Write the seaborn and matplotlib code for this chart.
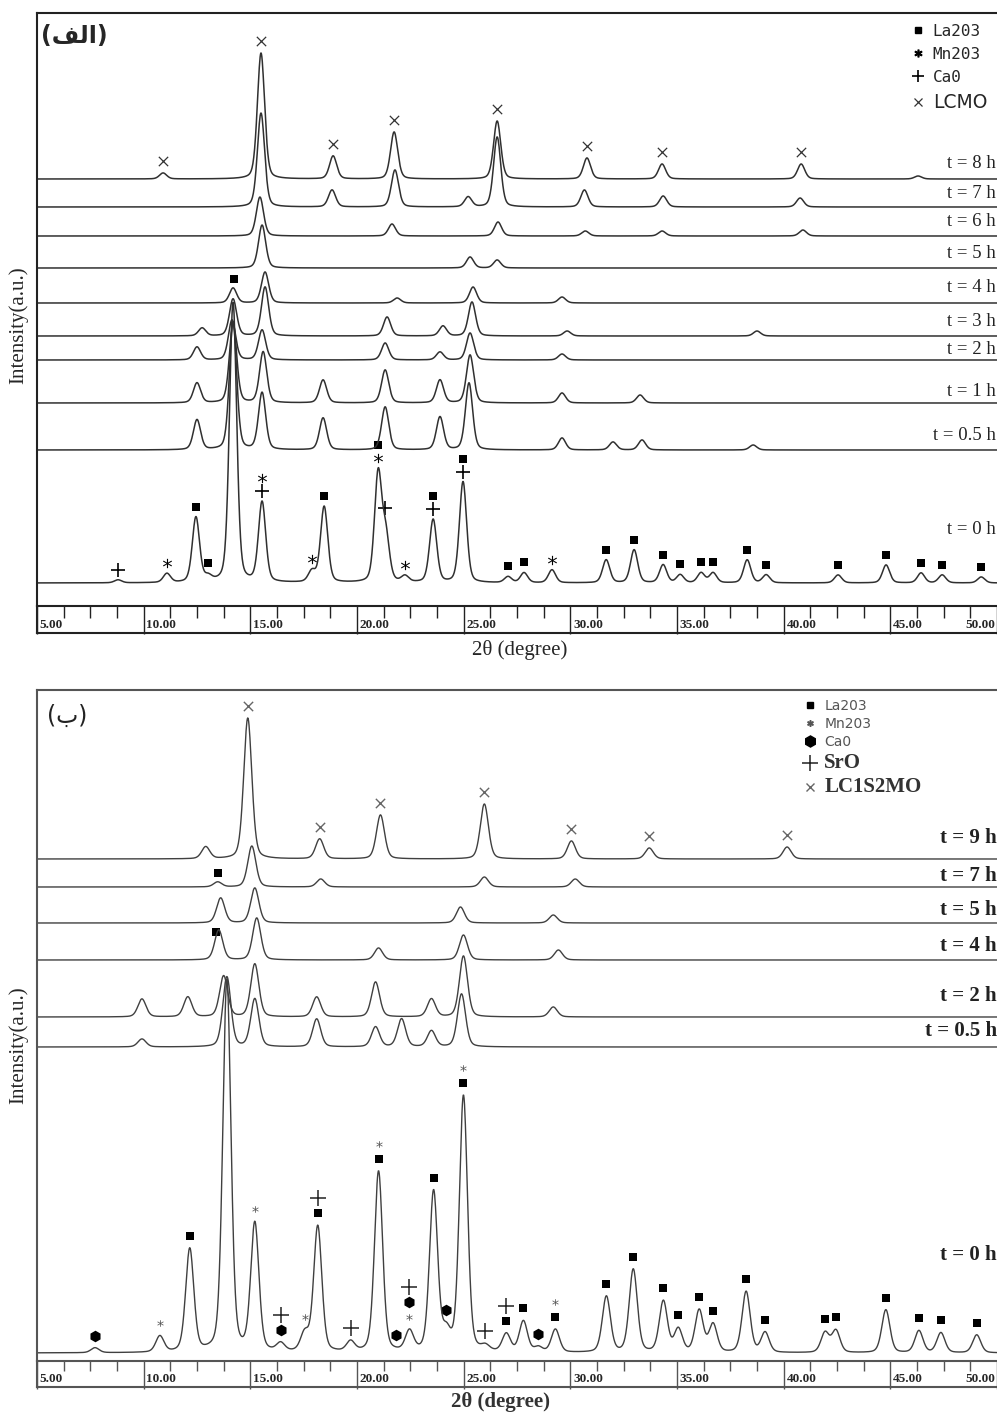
import numpy as np
import pandas as pd
import matplotlib.pyplot as plt
import seaborn as sns
from matplotlib.lines import Line2D
from matplotlib import transforms

# ---------------- dados ----------------
# eixo 2θ comum
x_major = [5, 10, 15, 20, 25, 30, 35, 40, 45, 50]
x_major_lab = ['5.00', '10.00', '15.00', '20.00', '25.00', '30.00', '35.00', '40.00', '45.00', '50.00']

# painel (الف) - LCMO
top_names = ['t = 8 h', 't = 7 h', 't = 6 h', 't = 5 h', 't = 4 h', 't = 3 h', 't = 2 h', 't = 1 h', 't = 0.5 h', 't = 0 h']

top_t8_pos = [10.91, 15.50, 18.88, 21.74, 26.57, 30.78, 34.30, 40.82, 46.30]
top_t8_hgt = [6, 126, 23, 47, 58, 21, 15, 15, 3]
top_t7_pos = [15.50, 18.83, 21.78, 25.21, 26.57, 30.66, 34.35, 40.77]
top_t7_hgt = [94, 17, 37, 10, 70, 17, 11, 9]
top_t6_pos = [15.45, 21.64, 26.61, 30.70, 34.30, 40.90]
top_t6_hgt = [39, 12, 14, 5, 5, 6]
top_t5_pos = [15.55, 25.30, 26.57]
top_t5_hgt = [43, 11, 8]
top_t4_pos = [14.19, 15.69, 21.88, 25.44, 29.61]
top_t4_hgt = [15, 31, 5, 16, 6]
top_t3_pos = [12.74, 14.19, 15.69, 21.41, 24.03, 25.39, 29.85, 38.75]
top_t3_hgt = [8, 37, 49, 19, 10, 34, 5, 5]
top_t2_pos = [12.50, 14.14, 15.55, 21.32, 23.89, 25.30, 29.61]
top_t2_hgt = [13, 40, 30, 17, 8, 27, 6]
top_t1_pos = [12.50, 14.19, 15.60, 18.41, 21.32, 23.89, 25.30, 29.61, 33.27]
top_t1_hgt = [20, 80, 51, 23, 33, 23, 48, 10, 8]
top_t05_pos = [12.50, 14.19, 15.55, 18.41, 21.32, 23.89, 25.25, 29.61, 32.00, 33.36, 38.57]
top_t05_hgt = [30, 128, 57, 32, 43, 33, 67, 12, 8, 10, 5]
top_t0_pos = [8.80, 11.09, 12.45, 13.02, 14.19, 15.55, 17.89, 18.46, 20.99, 21.35, 22.25, 23.57, 24.97,
              27.08, 27.83, 29.14, 31.68, 32.99, 34.35, 35.15, 36.13, 36.69, 38.29, 39.18, 42.55,
              44.80, 46.44, 47.43, 49.26]
top_t0_hgt = [3, 9, 65, 5, 280, 80, 11, 76, 108, 45, 6, 63, 101,
              6, 10, 13, 23, 33, 18, 8, 10, 10, 23, 8, 8,
              18, 10, 8, 6]

# marcadores de fase: L=La203, M=Mn203, C=Ca0, P=LCMO (empilhados de baixo p/ cima)
top_t8_mark_pos = [10.91, 15.50, 18.88, 21.74, 26.57, 30.78, 34.30, 40.82]
top_t8_mark_sym = ['P', 'P', 'P', 'P', 'P', 'P', 'P', 'P']
top_t4_mark_pos = [14.24]
top_t4_mark_sym = ['L']
top_t0_mark_pos = [8.80, 11.09, 12.45, 13.02, 15.55, 17.89, 18.46, 20.99, 21.32, 22.25, 23.57, 24.97,
                   27.08, 27.83, 29.14, 31.68, 32.99, 34.35, 35.15, 36.13, 36.69, 38.29, 39.18,
                   42.55, 44.80, 46.44, 47.43, 49.26]
top_t0_mark_sym = ['C', 'M', 'L', 'L', 'CM', 'M', 'L', 'ML', 'C', 'M', 'CL', 'CL',
                   'L', 'L', 'M', 'L', 'L', 'L', 'L', 'L', 'L', 'L', 'L',
                   'L', 'L', 'L', 'L', 'L']

# painel (ب) - LC1S2MO
bot_names = ['t = 9 h', 't = 7 h', 't = 5 h', 't = 4 h', 't = 2 h', 't = 0.5 h', 't = 0 h']

bot_t9_pos = [12.91, 14.88, 18.25, 21.10, 25.97, 30.05, 33.70, 40.16]
bot_t9_hgt = [12, 141, 20, 44, 55, 18, 11, 12]
bot_t7_pos = [13.47, 15.07, 18.30, 25.97, 30.23]
bot_t7_hgt = [5, 41, 8, 10, 8]
bot_t5_pos = [13.61, 15.21, 24.85, 29.20]
bot_t5_hgt = [25, 35, 16, 8]
bot_t4_pos = [13.52, 15.30, 21.01, 24.99, 29.44]
bot_t4_hgt = [30, 42, 12, 25, 10]
bot_t2_pos = [9.92, 12.07, 13.75, 15.21, 18.11, 20.87, 23.49, 24.99, 29.20]
bot_t2_hgt = [18, 20, 41, 53, 20, 35, 18, 61, 10]
bot_t05_pos = [9.92, 13.90, 15.21, 18.11, 20.87, 22.09, 23.49, 24.90]
bot_t05_hgt = [8, 70, 48, 28, 20, 28, 16, 53]
bot_t0_pos = [7.72, 10.76, 12.16, 13.90, 15.21, 16.42, 17.55, 18.16, 19.70, 21.01, 22.46, 23.59,
              24.19, 24.99, 26.02, 27.00, 27.80, 28.50, 29.30, 31.69, 32.95, 34.36, 35.06,
              36.04, 36.69, 38.24, 39.13, 41.94, 42.45, 44.79, 46.34, 47.37, 49.05]
bot_t0_hgt = [5, 16, 103, 372, 128, 8, 18, 126, 10, 181, 20, 160,
              18, 256, 5, 18, 31, 5, 23, 56, 83, 51, 23,
              42, 28, 61, 20, 20, 22, 43, 22, 20, 18]

# L=La203, M=Mn203, C=Ca0, S=SrO, P=LC1S2MO
bot_t9_mark_pos = [14.88, 18.25, 21.10, 25.97, 30.05, 33.70, 40.16]
bot_t9_mark_sym = ['P', 'P', 'P', 'P', 'P', 'P', 'P']
bot_t7_mark_pos = [13.47]
bot_t7_mark_sym = ['L']
bot_t4_mark_pos = [13.40]
bot_t4_mark_sym = ['L']
bot_t0_mark_pos = [7.72, 10.76, 12.16, 15.21, 16.42, 17.55, 18.16, 19.70, 21.01, 21.81, 22.46, 23.59,
                   24.19, 24.99, 26.02, 27.00, 27.80, 28.50, 29.30, 31.69, 32.95, 34.36, 35.06,
                   36.04, 36.69, 38.24, 39.13, 41.94, 42.45, 44.79, 46.34, 47.37, 49.05]
bot_t0_mark_sym = ['C', 'M', 'L', 'M', 'CS', 'M', 'LS', 'S', 'LM', 'C', 'MCS', 'L',
                   'C', 'LM', 'S', 'LS', 'L', 'C', 'LM', 'L', 'L', 'L', 'L',
                   'L', 'L', 'L', 'L', 'L', 'L', 'L', 'L', 'L', 'L']

# ---------------- layout ----------------
top_offsets = [427, 399, 370, 338, 303, 270, 246, 203, 156, 23]
top_label_y = [443, 413, 384, 352, 318, 284, 257, 214, 171, 76]
bot_offsets = [502, 474, 438, 401, 344, 314, 8]
bot_label_y = [523, 485, 451, 415, 365, 330, 106]

theta = np.linspace(5, 50, 2251)


def perfil(pos, hgt, fwhm):
    # pseudo-Voigt simples para cada pico
    y = np.zeros_like(theta)
    s = fwhm / 2.3548
    g = fwhm / 2
    for p, h in zip(pos, hgt):
        y += h * (0.7 * np.exp(-0.5 * ((theta - p) / s) ** 2) + 0.3 / (1 + ((theta - p) / g) ** 2))
    return y


def desenhar_tracos(ax, traces, offsets, fwhm, cor, lw):
    frames = []
    curvas = []
    for i, ((pos, hgt), off) in enumerate(zip(traces, offsets)):
        y = perfil(pos, hgt, fwhm) + off
        curvas.append(y)
        frames.append(pd.DataFrame({'theta': theta, 'y': y, 'trace': i}))
    df = pd.concat(frames)
    sns.lineplot(data=df, x='theta', y='y', units='trace', estimator=None, sort=False,
                 color=cor, linewidth=lw, ax=ax, legend=False)
    return curvas


def desenhar_marcas(ax, curva, mark_pos, mark_sym, estilos, gap, step):
    linhas = []
    for p, syms in zip(mark_pos, mark_sym):
        base = np.interp(p, theta, curva)
        for k, c in enumerate(syms):
            linhas.append({'theta': p, 'y': base + gap + k * step, 'sym': c})
    dm = pd.DataFrame(linhas)
    for c, kw in estilos.items():
        sub = dm[dm['sym'] == c]
        if len(sub):
            sns.scatterplot(data=sub, x='theta', y='y', ax=ax, legend=False, **kw)


def desenhar_faixa(ax_s, minor_len, cor):
    x_minor = [v for v in np.arange(5, 50, 1.25) if v not in x_major]
    ax_s.set_xlim(5, 50)
    ax_s.set_ylim(0, 1)
    ax_s.set_yticks([])
    ax_s.set_xticks(x_major)
    ax_s.set_xticks(x_minor, minor=True)
    ax_s.tick_params(axis='x', which='both', bottom=False, top=True, direction='in',
                     labelbottom=False, labeltop=False, color=cor, width=1.0)
    ax_s.tick_params(axis='x', which='major', length=20)
    ax_s.tick_params(axis='x', which='minor', length=minor_len)
    ax_s.set_xlabel('')
    ax_s.set_ylabel('')
    for v, lab in zip(x_major, x_major_lab):
        ha = 'right' if v == 50 else 'left'
        dx = -1 if v == 50 else 2
        ax_s.annotate(lab, (v, 0.08), xytext=(dx, 0), textcoords='offset points', ha=ha, va='bottom',
                      fontsize=9.5, fontweight='bold', family='Liberation Serif')
    for lado in ['top', 'bottom', 'left']:
        ax_s.spines[lado].set_color(cor)
        ax_s.spines[lado].set_linewidth(1.5)
    ax_s.spines['right'].set_visible(False)


sns.set_theme(style='white')
plt.rcParams['font.family'] = ['Liberation Serif', 'DejaVu Sans']

fig = plt.figure(figsize=(9.97, 14.14), dpi=100)
W, H = 997, 1414

ax1 = fig.add_axes([37 / W, 1 - 606 / H, 960 / W, 593 / H])
ax1s = fig.add_axes([37 / W, 1 - 633 / H, 960 / W, 27 / H])
ax2 = fig.add_axes([37 / W, 1 - 1361 / H, 960 / W, 671 / H])
ax2s = fig.add_axes([37 / W, 1 - 1387 / H, 960 / W, 26 / H])

# ---------- painel (الف) ----------
top_traces = [(top_t8_pos, top_t8_hgt), (top_t7_pos, top_t7_hgt), (top_t6_pos, top_t6_hgt),
              (top_t5_pos, top_t5_hgt), (top_t4_pos, top_t4_hgt), (top_t3_pos, top_t3_hgt),
              (top_t2_pos, top_t2_hgt), (top_t1_pos, top_t1_hgt), (top_t05_pos, top_t05_hgt),
              (top_t0_pos, top_t0_hgt)]
curvas1 = desenhar_tracos(ax1, top_traces, top_offsets, 0.40, '#303030', 1.1)

estilo_top = {
    'L': dict(marker='s', s=30, color='black', edgecolor='black', linewidth=0),
    'M': dict(marker='$*$', s=45, color='black', edgecolor='black', linewidth=0),
    'C': dict(marker='+', s=110, color='black', edgecolor='black', linewidth=1.2),
    'P': dict(marker='x', s=45, color='#333333', edgecolor='#333333', linewidth=0.9),
}
desenhar_marcas(ax1, curvas1[0], top_t8_mark_pos, top_t8_mark_sym, estilo_top, 12, 13)
desenhar_marcas(ax1, curvas1[4], top_t4_mark_pos, top_t4_mark_sym, estilo_top, 10, 13)
desenhar_marcas(ax1, curvas1[9], top_t0_mark_pos, top_t0_mark_sym, estilo_top, 10, 13)

ax1.set_xlim(5, 50)
ax1.set_ylim(0, 593)
ax1.set_xticks([])
ax1.set_yticks([])
ax1.set_xlabel('')
ax1.set_ylabel('')
for lado in ['top', 'left']:
    ax1.spines[lado].set_color('#222222')
    ax1.spines[lado].set_linewidth(1.5)
ax1.spines['right'].set_visible(False)
ax1.spines['bottom'].set_visible(False)

tr1 = transforms.blended_transform_factory(ax1.transAxes, ax1.transData)
for nome, yl in zip(top_names, top_label_y):
    ax1.text(0.999, yl, nome, transform=tr1, ha='right', va='center', fontsize=13.5,
             family='Liberation Serif', color='#222222')

# (الف) em formas de apresentação, ordem visual
ax1.text(0.004, 0.962, '(\uFED2\uFEDF\uFE8D)', transform=ax1.transAxes, ha='left', va='center',
         fontsize=17, fontweight='bold', family='DejaVu Sans')

h_top = [Line2D([], [], ls='', marker='s', ms=5, color='black'),
         Line2D([], [], ls='', marker='$*$', ms=5, color='black'),
         Line2D([], [], ls='', marker='+', ms=9, mew=1.2, color='black'),
         Line2D([], [], ls='', marker='x', ms=6, mew=0.9, color='#333333')]
leg1 = ax1.legend(h_top, ['La203', 'Mn203', 'Ca0', 'LCMO'], loc='upper right',
                  bbox_to_anchor=(0.998, 0.995), frameon=False, handlelength=0.8,
                  handletextpad=0.5, labelspacing=0.5, borderaxespad=0.1,
                  prop={'family': 'DejaVu Sans Mono', 'size': 11.5})
leg1.get_texts()[3].set_fontfamily('DejaVu Sans')
leg1.get_texts()[3].set_fontsize(13.5)

desenhar_faixa(ax1s, 8.5, '#222222')

# ---------- painel (ب) ----------
bot_traces = [(bot_t9_pos, bot_t9_hgt), (bot_t7_pos, bot_t7_hgt), (bot_t5_pos, bot_t5_hgt),
              (bot_t4_pos, bot_t4_hgt), (bot_t2_pos, bot_t2_hgt), (bot_t05_pos, bot_t05_hgt),
              (bot_t0_pos, bot_t0_hgt)]
curvas2 = desenhar_tracos(ax2, bot_traces, bot_offsets, 0.45, '#404040', 1.0)

estilo_bot = {
    'L': dict(marker='s', s=34, color='black', edgecolor='black', linewidth=0),
    'M': dict(marker='$*$', s=22, color='#555555', edgecolor='#555555', linewidth=0),
    'C': dict(marker='h', s=70, color='black', edgecolor='black', linewidth=0),
    'S': dict(marker='+', s=130, color='#222222', edgecolor='#222222', linewidth=1.1),
    'P': dict(marker='x', s=45, color='#666666', edgecolor='#666666', linewidth=1.0),
}
desenhar_marcas(ax2, curvas2[0], bot_t9_mark_pos, bot_t9_mark_sym, estilo_bot, 12, 14)
desenhar_marcas(ax2, curvas2[1], bot_t7_mark_pos, bot_t7_mark_sym, estilo_bot, 9, 14)
desenhar_marcas(ax2, curvas2[3], bot_t4_mark_pos, bot_t4_mark_sym, estilo_bot, 4, 14)
desenhar_marcas(ax2, curvas2[6], bot_t0_mark_pos, bot_t0_mark_sym, estilo_bot, 12, 15)

ax2.set_xlim(5, 50)
ax2.set_ylim(0, 671)
ax2.set_xticks([])
ax2.set_yticks([])
ax2.set_xlabel('')
ax2.set_ylabel('')
for lado in ['top', 'left']:
    ax2.spines[lado].set_color('#555555')
    ax2.spines[lado].set_linewidth(1.5)
ax2.spines['right'].set_visible(False)
ax2.spines['bottom'].set_visible(False)

tr2 = transforms.blended_transform_factory(ax2.transAxes, ax2.transData)
for nome, yl in zip(bot_names, bot_label_y):
    ax2.text(1.0, yl, nome, transform=tr2, ha='right', va='center', fontsize=15,
             fontweight='bold', family='Liberation Serif', color='#222222')

ax2.text(0.01, 0.962, '(\u0628)', transform=ax2.transAxes, ha='left', va='center',
         fontsize=17, family=['DejaVu Sans'], color='#222222')

h_bot = [Line2D([], [], ls='', marker='s', ms=5, color='black'),
         Line2D([], [], ls='', marker='$*$', ms=4, color='#555555'),
         Line2D([], [], ls='', marker='h', ms=8, color='black'),
         Line2D([], [], ls='', marker='+', ms=11, mew=1.1, color='#222222'),
         Line2D([], [], ls='', marker='x', ms=6, mew=1.0, color='#666666')]
leg2 = ax2.legend(h_bot, ['La203', 'Mn203', 'Ca0', 'SrO', 'LC1S2MO'], loc='upper left',
                  bbox_to_anchor=((798 - 37) / 960, (1361 - 693) / 671), frameon=False,
                  handlelength=0.9, handletextpad=0.6, labelspacing=0.3, borderaxespad=0.0,
                  prop={'family': 'DejaVu Sans', 'size': 10})
for t in leg2.get_texts()[:3]:
    t.set_color('#555555')
for t in leg2.get_texts()[3:]:
    t.set_fontfamily('Liberation Serif')
    t.set_fontsize(15)
    t.set_fontweight('bold')
    t.set_color('#333333')

desenhar_faixa(ax2s, 7, '#555555')

# ---------- rótulos dos eixos ----------
fig.text(18 / W, 1 - 325 / H, 'Intensity(a.u.)', rotation=90, ha='center', va='center',
         fontsize=15, family='Liberation Serif')
fig.text(520 / W, 1 - 650 / H, '2θ (degree)', ha='center', va='center', fontsize=15,
         family='Liberation Serif')
fig.text(18 / W, 1 - 1045 / H, 'Intensity(a.u.)', rotation=90, ha='center', va='center',
         fontsize=15, family='Liberation Serif')
fig.text(500 / W, 1 - 1402 / H, '2θ (degree)', ha='center', va='center', fontsize=15,
         fontweight='bold', family='Liberation Serif', color='#333333')

fig.savefig('out.png', dpi=100)
